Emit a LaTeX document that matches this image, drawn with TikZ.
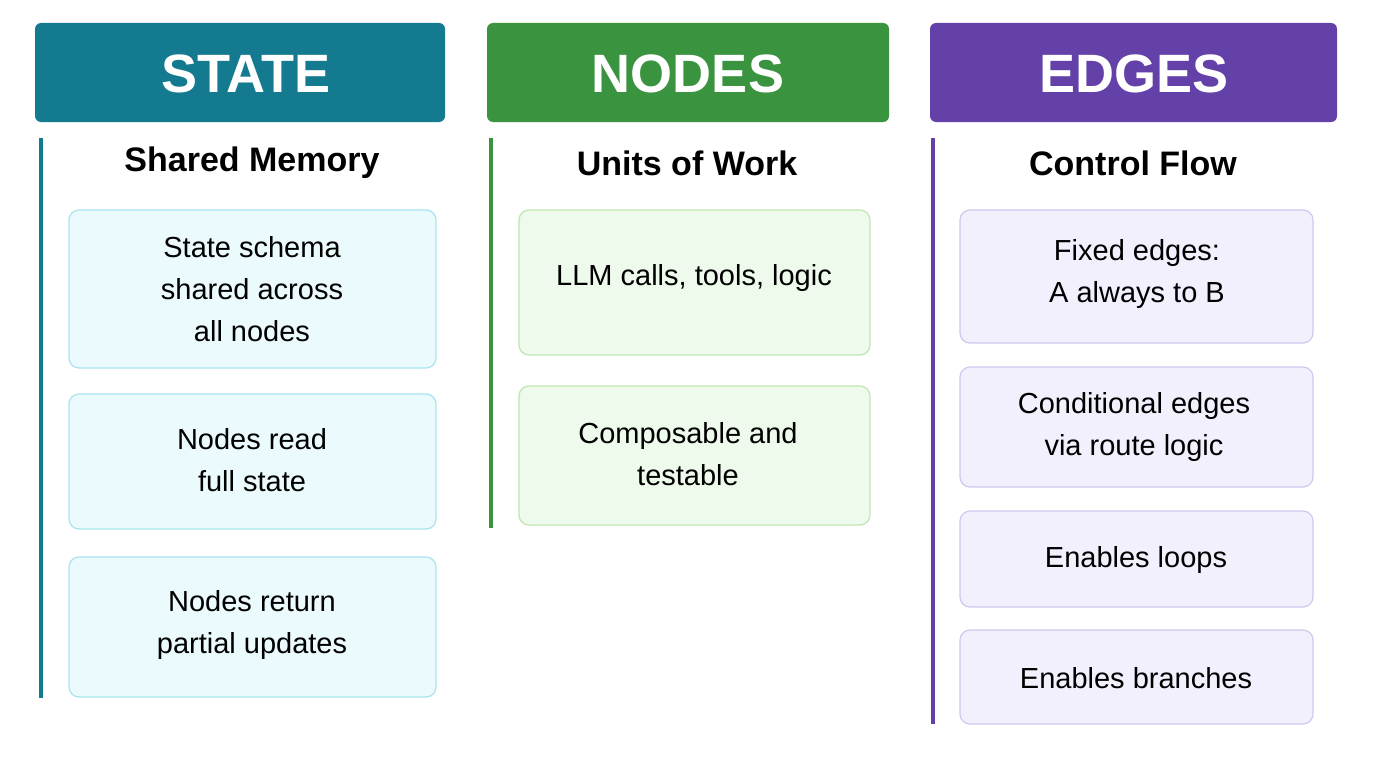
\documentclass[tikz,border=0pt]{standalone}
\usepackage{fontspec}
\setmainfont{Liberation Sans}
\definecolor{cA}{HTML}{137A8F}\definecolor{cB}{HTML}{3A933E}\definecolor{cC}{HTML}{6441A8}
\definecolor{fA}{HTML}{EAFAFD}\definecolor{dA}{HTML}{A8E4EE}
\definecolor{fB}{HTML}{EEFAEB}\definecolor{dB}{HTML}{BFE5B5}
\definecolor{fC}{HTML}{F3F0FD}\definecolor{dC}{HTML}{D2C6F0}
\begin{document}
\begin{tikzpicture}[x=0.5pt,y=-0.5pt,
 hdr/.style={rounded corners=3pt,text=white,font=\fontsize{27}{30}\selectfont\bfseries},
 sub/.style={font=\fontsize{17}{20}\selectfont\bfseries},
 card/.style={rounded corners=5pt,line width=0.6pt,align=center,font=\fontsize{14.5}{21}\selectfont}]
\useasboundingbox (0,0) rectangle (1379,781);
\fill[white] (0,0) rectangle (1379,781);
% headers
\fill[cA,rounded corners=3pt] (35,23) rectangle (445,122);
\fill[cB,rounded corners=3pt] (487,23) rectangle (889,122);
\fill[cC,rounded corners=3pt] (930,23) rectangle (1337,122);
\node[hdr] (hA) at (246,74) {STATE};
\node[hdr] (hB) at (688,74) {NODES};
\node[hdr] (hC) at (1134,74) {EDGES};
% bars
\draw[cA,line width=2pt] (41,138) -- (41,698);
\draw[cB,line width=2pt] (491,138) -- (491,528);
\draw[cC,line width=2pt] (933,138) -- (933,724);
\node[sub] (sA) at (252,163) {Shared Memory};
\node[sub] (sB) at (687,163) {Units of Work};
\node[sub] (sC) at (1133,163) {Control Flow};
% cards
\draw[card,fill=fA,draw=dA] (69,210) rectangle (436,368);
\node[card] (a1) at (252,289) {State schema\\shared across\\all nodes};
\draw[card,fill=fA,draw=dA] (69,394) rectangle (436,529);
\node[card] (a2) at (252,460) {Nodes read\\full state};
\draw[card,fill=fA,draw=dA] (69,557) rectangle (436,697);
\node[card] (a3) at (252,625) {Nodes return\\partial updates};
\draw[card,fill=fB,draw=dB] (519,210) rectangle (870,355);
\node[card] (b1) at (694,278) {LLM calls, tools, logic};
\draw[card,fill=fB,draw=dB] (519,386) rectangle (870,525);
\node[card] (b2) at (688,454) {Composable and\\testable};
\draw[card,fill=fC,draw=dC] (960,210) rectangle (1313,343);
\node[card] (c1) at (1137,274) {Fixed edges:\\A always to B};
\draw[card,fill=fC,draw=dC] (960,367) rectangle (1313,487);
\node[card] (c2) at (1134,427) {Conditional edges\\via route logic};
\draw[card,fill=fC,draw=dC] (960,511) rectangle (1313,607);
\node[card] (c3) at (1136,560) {Enables loops};
\draw[card,fill=fC,draw=dC] (960,630) rectangle (1313,724);
\node[card] (c4) at (1136,678) {Enables branches};
\end{tikzpicture}
\end{document}
